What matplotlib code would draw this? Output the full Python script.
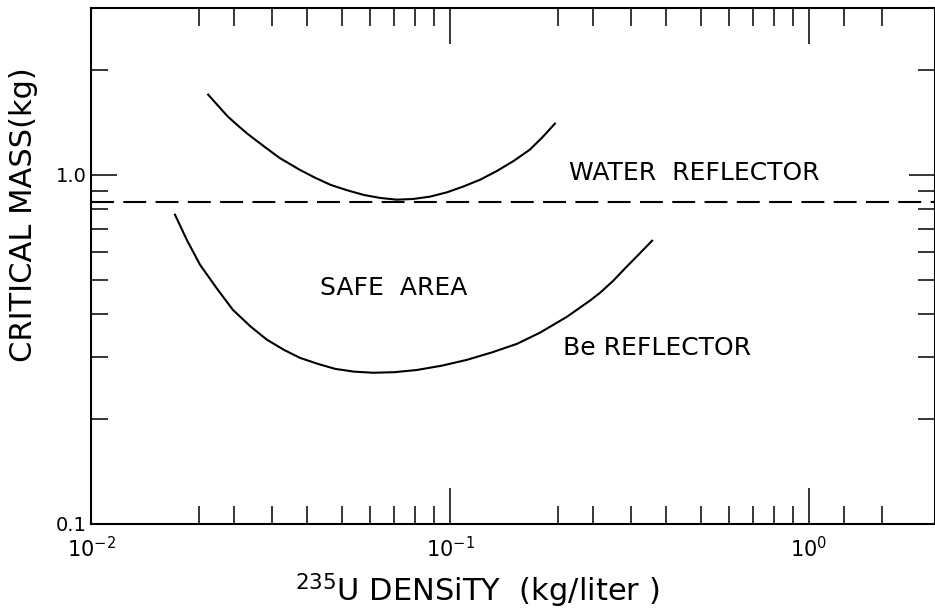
# critical mass vs U-235 density, water / Be reflector

import matplotlib
matplotlib.use('Agg')
import matplotlib.pyplot as plt
from matplotlib.ticker import FixedLocator, NullFormatter

# water reflected curve
water_x = [0.0212, 0.0226, 0.0240, 0.0257, 0.0274, 0.0305, 0.0336, 0.0380, 0.0421, 0.0465,
           0.0516, 0.0575, 0.0638, 0.0711, 0.0790, 0.0879, 0.0980, 0.1087, 0.1215,
           0.1352, 0.1505, 0.1670, 0.1810, 0.1960]
water_y = [1.695, 1.575, 1.47, 1.38, 1.305, 1.20, 1.115, 1.035, 0.980, 0.935,
           0.903, 0.875, 0.858, 0.848, 0.852, 0.865, 0.890, 0.924, 0.968,
           1.025, 1.095, 1.180, 1.280, 1.400]

# Be reflected curve
be_x = [0.01714, 0.0185, 0.02013, 0.0225, 0.02486, 0.0278, 0.0309, 0.0345, 0.0382,
        0.0430, 0.0479, 0.0540, 0.0610, 0.0700, 0.0809, 0.0950, 0.1114, 0.1310,
        0.1538, 0.1782, 0.2118, 0.2455, 0.2618, 0.2850, 0.3072, 0.3350, 0.3656]
be_y = [0.768, 0.650, 0.552, 0.470, 0.410, 0.368, 0.337, 0.315, 0.299,
        0.287, 0.278, 0.273, 0.271, 0.272, 0.276, 0.284, 0.295, 0.310,
        0.328, 0.353, 0.392, 0.436, 0.459, 0.497, 0.539, 0.590, 0.647]

limit_mass = 0.835   # dashed line

x_major = [0.01, 0.1, 1.0]
x_major_labels = [r'$\mathregular{10^{-2}}$', r'$\mathregular{10^{-1}}$', r'$\mathregular{10^{0}}$']
x_minor = [0.02, 0.025, 0.032, 0.04, 0.05, 0.06, 0.07, 0.08, 0.09,
           0.2, 0.25, 0.32, 0.4, 0.5, 0.6, 0.7, 0.8, 0.9,
           1.25, 1.6]
y_major = [0.1, 1.0]
y_major_labels = ['0.1', '1.0']
y_minor = [0.2, 0.3, 0.4, 0.5, 0.6, 0.7, 0.8, 0.9, 2.0]

plt.rcParams['font.family'] = ['DejaVu Sans']
plt.rcParams['mathtext.default'] = 'regular'

fig = plt.figure(figsize=(9.35, 6.11), dpi=100)
ax = fig.add_axes([0.0973, 0.1424, 0.9027, 0.8445])

ax.plot(water_x, water_y, color='k', linewidth=1.5)
ax.plot(be_x, be_y, color='k', linewidth=1.5)
ax.axhline(limit_mass, color='k', linewidth=1.5, dashes=(11, 4.5))

ax.set_xscale('log')
ax.set_yscale('log')
ax.set_xlim(0.01, 2.244)
ax.set_ylim(0.1, 3.0)

ax.xaxis.set_major_locator(FixedLocator(x_major))
ax.set_xticklabels(x_major_labels)
ax.xaxis.set_minor_locator(FixedLocator(x_minor))
ax.xaxis.set_minor_formatter(NullFormatter())
ax.yaxis.set_major_locator(FixedLocator(y_major))
ax.set_yticklabels(y_major_labels)
ax.yaxis.set_minor_locator(FixedLocator(y_minor))
ax.yaxis.set_minor_formatter(NullFormatter())

ax.tick_params(which='both', direction='in', top=True, right=True, width=1.1)
ax.tick_params(axis='x', which='major', length=26, labelsize=15, pad=9)
ax.tick_params(axis='x', which='minor', length=13)
ax.tick_params(axis='y', which='major', length=19, labelsize=14, pad=3)
ax.tick_params(axis='y', which='minor', length=12)

for s in ax.spines.values():
    s.set_linewidth(1.5)

ax.set_xlabel(r'$^{235}$U DENSiTY  (kg/liter )', fontsize=22)
ax.xaxis.set_label_coords(0.458, -0.093)
ax.set_ylabel('CRITICAL MASS(kg)', fontsize=22)
ax.yaxis.set_label_coords(-0.063, 0.60)

ax.text(0.566, 0.680, 'WATER  REFLECTOR', transform=ax.transAxes, fontsize=18,
        ha='left', va='center')
ax.text(0.2713, 0.457, 'SAFE  AREA', transform=ax.transAxes, fontsize=18,
        ha='left', va='center')
ax.text(0.559, 0.341, 'Be REFLECTOR', transform=ax.transAxes, fontsize=18,
        ha='left', va='center')

plt.savefig('out.png', dpi=100)
